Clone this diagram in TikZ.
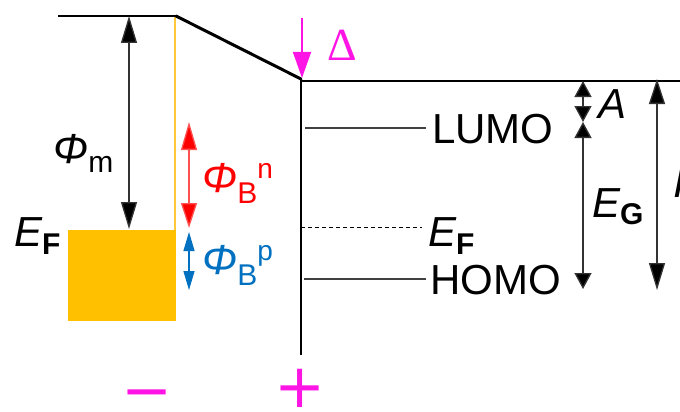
\documentclass[tikz,border=0pt]{standalone}
\usepackage{fontspec}
\setmainfont{Liberation Sans}
\newfontfamily\serifgr{Liberation Serif}
\newfontfamily\symfont{DejaVu Sans}
\usetikzlibrary{arrows.meta}
\definecolor{gold}{RGB}{255,192,0}
\definecolor{goldline}{RGB}{255,200,60}
\definecolor{bred}{RGB}{255,0,0}
\definecolor{lred}{RGB}{255,80,80}
\definecolor{bblue}{RGB}{0,112,192}
\definecolor{mag}{RGB}{255,20,230}
\newcommand\lsub[2][-9pt]{\raisebox{#1}{\upshape\fontsize{30}{30}\selectfont #2}}
\newcommand\lsup[2][15pt]{\raisebox{#1}{\upshape\fontsize{28}{28}\selectfont #2}}
\tikzset{
  lbl/.style={inner sep=0pt, anchor=base west, font=\fontsize{42}{50}\selectfont},
  bigsym/.style={inner sep=0pt, anchor=base, text=mag, font=\symfont\fontsize{61}{61}\selectfont},
  dimarrow/.style={line width=1.3pt, draw=black!80, {Triangle[length=27pt,width=16pt,fill=black]}-{Triangle[length=27pt,width=16pt,fill=black]}},
  smallarrow/.style={line width=1.3pt, draw=black!80, {Triangle[length=16pt,width=17pt,fill=black]}-{Triangle[length=16pt,width=17pt,fill=black]}},
  level/.style={line width=1.3pt, draw=black!75},
}
\begin{document}
\begin{tikzpicture}[x=1pt,y=-1pt]
\useasboundingbox (0,0) rectangle (680,412);
\clip (0,0) rectangle (680,412);
% coordinates
\coordinate (vacL) at (58,16);
\coordinate (vacM) at (176,16);
\coordinate (iface) at (301,79);
\coordinate (ifaceB) at (301,355);
\coordinate (vacR) at (680,81);
% metal
\fill[gold] (68,230) rectangle (176,321);
\draw[goldline, line width=1.2pt] (175,16) -- (175,230);
\draw[line width=2pt] (vacL) -- (vacM);
\draw[line width=3pt, line cap=round] (vacM) -- (iface);
% semiconductor
\draw[line width=1.5pt] (iface) -- (ifaceB);
\draw[line width=1.3pt] (301,81) -- (vacR);
\coordinate (lumoL) at (305,128);
\coordinate (lumoR) at (426,128);
\coordinate (efL) at (301,227);
\coordinate (efR) at (422,227);
\coordinate (homoL) at (304,279);
\coordinate (homoR) at (426,279);
\draw[level] (lumoL) -- (lumoR);
\draw[level] (homoL) -- (homoR);
\draw[line width=1pt, dash pattern=on 4pt off 3pt] (efL) -- (efR);
% labels
\node[lbl] (lumo) at (432,143) {LUMO};
\node[lbl] (homo) at (430,294) {HOMO};
\node[lbl] (efr) at (428,246) {\itshape E\lsub[-8pt]{\bfseries F}};
\node[lbl] (efl) at (14,246) {\itshape E\lsub[-8pt]{\bfseries F}};
\node[lbl] (phim) at (53,163) {\itshape Φ\lsub{m}};
\node[lbl, text=bred] (phin) at (202,192) {\itshape Φ\lsub[-11pt]{B}\lsup[14pt]{n}};
\node[lbl, text=bblue] (phip) at (202,274) {\itshape Φ\lsub[-11pt]{B}\lsup[14pt]{p}};
\node[lbl] (A) at (598,118) {\itshape A};
\node[lbl] (eg) at (592,217) {\itshape E\lsub[-7pt]{\bfseries G}};
\node[lbl] (I) at (673,197) {\itshape I};
\node[lbl, text=mag, font=\serifgr\fontsize{46}{50}\selectfont] (delta) at (327,60) {Δ};
\node[bigsym] (minus) at (147,411) {−};
\node[bigsym] (plus) at (300,407) {+};
% arrows
\coordinate (pmT) at (129,16);
\coordinate (pmB) at (129,229);
\draw[dimarrow] (pmT) -- (pmB);
\coordinate (bnT) at (189,122);
\coordinate (bnB) at (189,228);
\draw[line width=1.3pt, draw=lred, {Triangle[length=28pt,width=16pt,fill=bred]}-{Triangle[length=25pt,width=16pt,fill=bred]}] (bnT) -- (bnB);
\coordinate (bpT) at (189,232);
\coordinate (bpB) at (189,290);
\draw[line width=1.3pt, bblue, {Triangle[length=19pt,width=11pt]}-{Triangle[length=19pt,width=11pt]}] (bpT) -- (bpB);
\coordinate (dT) at (302,18);
\coordinate (dB) at (302,78);
\draw[line width=1.5pt, mag, -{Triangle[length=26pt,width=18pt]}] (dT) -- (dB);
\coordinate (aT) at (583,81);
\coordinate (aB) at (583,122);
\draw[smallarrow] (aT) -- (aB);
\coordinate (gB) at (583,289);
\draw[smallarrow] (aB) -- (gB);
\coordinate (iT) at (657,79);
\coordinate (iB) at (657,290);
\draw[line width=1.3pt, draw=black!80, {Triangle[length=25pt,width=16pt,fill=black]}-{Triangle[length=27pt,width=16pt,fill=black]}] (iT) -- (iB);
\end{tikzpicture}
\end{document}
